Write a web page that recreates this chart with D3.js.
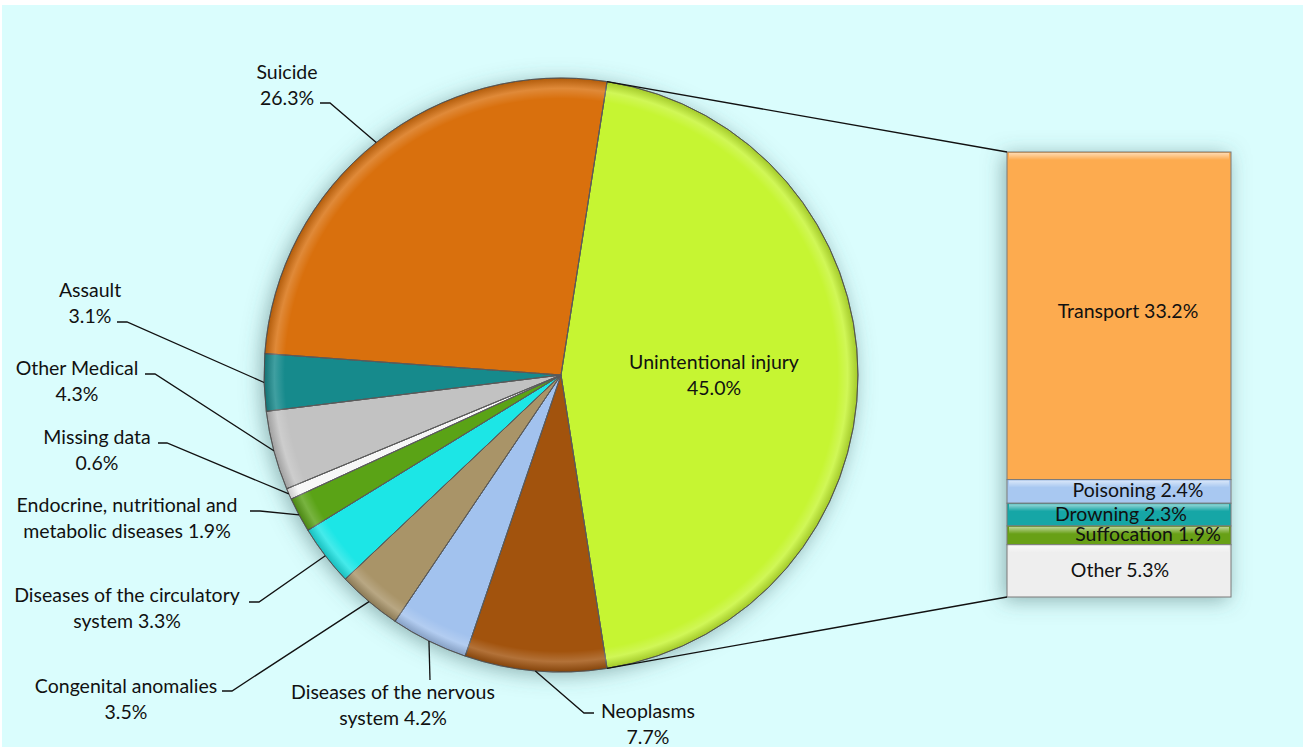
<!DOCTYPE html>
<html><head><meta charset="utf-8">
<script src="https://cdn.jsdelivr.net/npm/d3@7"></script>
<style>html,body{margin:0;padding:0;background:#fff;}svg{display:block;}</style>
</head><body>
<script>
// ---- data ----
const categories = ["Unintentional injury","Neoplasms","Diseases of the nervous system","Congenital anomalies","Diseases of the circulatory system","Endocrine, nutritional and metabolic diseases","Missing data","Other Medical","Assault","Suicide"];
const values = [45.0, 7.7, 4.2, 3.5, 3.3, 1.9, 0.6, 4.3, 3.1, 26.3];
const labelTexts = [["Unintentional injury","45.0%"],["Neoplasms","7.7%"],["Diseases of the nervous","system 4.2%"],["Congenital anomalies","3.5%"],["Diseases of the circulatory","system 3.3%"],["Endocrine, nutritional and","metabolic diseases 1.9%"],["Missing data","0.6%"],["Other Medical","4.3%"],["Assault","3.1%"],["Suicide","26.3%"]];
const colors = ["#c6f530","#a2520b","#a2c2ee","#a99467","#1fe6e6","#5aa317","#f7f7f7","#c2c2c2","#158a8c","#d96f09"];
const subCategories = ["Transport","Poisoning","Drowning","Suffocation","Other"];
const subValues = [33.2, 2.4, 2.3, 1.9, 5.3];
const subColors = ["#fdab4f","#a8c8f1","#17a6a6","#68a012","#eeeeee"];

// ---- layout ----
const W = 1303, H = 749;
const cx = 561, cy = 375, R = 297;
const barX = 1007, barW = 224, barTop = 152, barBottom = 597;
const FS = 19.5;
// label anchor positions (text centers) and leader elbows
const labelPos = [
  {x:714,y:362,inside:true},
  {x:648,y:711,lx:[[594,713],[584,713]]},
  {x:393,y:692,lx:[[430,680]]},
  {x:126,y:686,lx:[[222,691],[232,691]]},
  {x:127,y:595,lx:[[249,602],[259,602]]},
  {x:127,y:505,lx:[[250,511],[260,511]]},
  {x:97,y:437,lx:[[158,443],[167,443]]},
  {x:77,y:368,lx:[[145,374],[155,374]]},
  {x:90,y:290,lx:[[117,322],[127,322]]},
  {x:287,y:72,lx:[[320,103],[330,103]]}
];
const subLabelX = [1128,1138,1121,1148,1120];

const svg = d3.select("body").append("svg").attr("width",W).attr("height",H)
  .style("font-family","Lato, 'Open Sans', sans-serif");

const defs = svg.append("defs");
const sh = defs.append("filter").attr("id","shadow").attr("x","-20%").attr("y","-20%").attr("width","140%").attr("height","140%");
sh.append("feDropShadow").attr("dx",-3).attr("dy",3).attr("stdDeviation",10).attr("flood-color","#3f6868").attr("flood-opacity",0.5);
const rim = defs.append("radialGradient").attr("id","rim").attr("cx",cx).attr("cy",cy).attr("r",R).attr("gradientUnits","userSpaceOnUse");
rim.append("stop").attr("offset","0.93").attr("stop-color","#fff").attr("stop-opacity",0);
rim.append("stop").attr("offset","0.965").attr("stop-color","#fff").attr("stop-opacity",0.18);
rim.append("stop").attr("offset","1").attr("stop-color","#000").attr("stop-opacity",0.18);
const bev = defs.append("linearGradient").attr("id","bev").attr("x1",0).attr("y1",0).attr("x2",0).attr("y2",1);
bev.append("stop").attr("offset",0).attr("stop-color","#fff").attr("stop-opacity",0.55);
bev.append("stop").attr("offset",1).attr("stop-color","#fff").attr("stop-opacity",0);

svg.append("rect").attr("x",2).attr("y",5).attr("width",W-2).attr("height",H-7).attr("fill","#dafdfd");

// ---- pie ----
const total = d3.sum(values);
const start = Math.PI/2 - (values[0]/total)*Math.PI;
const pie = d3.pie().sort(null).value(d=>d).startAngle(start).endAngle(start+2*Math.PI);
const arcs = pie(values);
const arc = d3.arc().innerRadius(0).outerRadius(R);

const gPie = svg.append("g").attr("transform",`translate(${cx},${cy})`);
gPie.append("g").attr("filter","url(#shadow)").selectAll("path").data(arcs).join("path")
  .attr("d",arc).attr("fill",(d,i)=>colors[i]).attr("stroke","#5a5a5a").attr("stroke-width",0.8);
svg.append("circle").attr("cx",cx).attr("cy",cy).attr("r",R).attr("fill","url(#rim)").attr("pointer-events","none");
gPie.selectAll("path.edge").data(arcs).join("path").attr("class","edge")
  .attr("d",arc).attr("fill","none").attr("stroke","#5a5a5a").attr("stroke-width",0.8);

// ---- bar of pie ----
const subTotal = d3.sum(subValues);
const y = d3.scaleLinear().domain([0, subTotal]).range([barTop, barBottom]);
const cum = d3.cumsum(subValues);
const segs = subValues.map((v,i)=>({v, y0: i?cum[i-1]:0, y1: cum[i]}));
const gBar = svg.append("g");
gBar.append("g").attr("filter","url(#shadow)").selectAll("rect").data(segs).join("rect")
  .attr("x",barX).attr("width",barW).attr("y",d=>y(d.y0)).attr("height",d=>y(d.y1)-y(d.y0))
  .attr("fill",(d,i)=>subColors[i]).attr("stroke","#7a7a7a").attr("stroke-width",1);
gBar.selectAll("rect.hl").data(segs).join("rect").attr("class","hl")
  .attr("x",barX+2).attr("width",barW-4).attr("y",d=>y(d.y0)+1).attr("height",d=>Math.min(7,(y(d.y1)-y(d.y0))/2))
  .attr("fill","url(#bev)");
gBar.selectAll("text").data(segs).join("text")
  .attr("x",(d,i)=>subLabelX[i]).attr("y",(d,i)=> i===0 ? (y(d.y0)+y(d.y1))/2 - 3 : (y(d.y0)+y(d.y1))/2 + 1)
  .attr("text-anchor","middle").attr("dominant-baseline","middle").attr("font-size",FS).attr("fill","#111")
  .text((d,i)=>`${subCategories[i]} ${d3.format(".1f")(d.v)}%`);

// connectors
const a0 = arcs[0];
const pt = (ang, r)=>[cx + r*Math.sin(ang), cy - r*Math.cos(ang)];
const p1 = pt(a0.startAngle, R), p2 = pt(a0.endAngle, R);
svg.append("line").attr("x1",p1[0]).attr("y1",p1[1]).attr("x2",barX).attr("y2",y(0)).attr("stroke","#111").attr("stroke-width",1.3);
svg.append("line").attr("x1",p2[0]).attr("y1",p2[1]).attr("x2",barX).attr("y2",y(subTotal)).attr("stroke","#111").attr("stroke-width",1.3);

// ---- labels ----
const gLab = svg.append("g");
arcs.forEach((d,i)=>{
  const lp = labelPos[i];
  const t = gLab.append("text").attr("text-anchor","middle").attr("font-size",FS).attr("fill","#111");
  labelTexts[i].forEach((s,k)=>t.append("tspan").attr("x",lp.x).attr("y",lp.y+7+k*26).text(s));
  if(!lp.inside){
    const mid = (d.startAngle+d.endAngle)/2;
    const e = pt(mid, R);
    const pts = lp.lx.concat([e]);
    gLab.append("path").attr("d",d3.line()(pts)).attr("fill","none").attr("stroke","#111").attr("stroke-width",1.3);
  }
});
</script>
</body></html>
